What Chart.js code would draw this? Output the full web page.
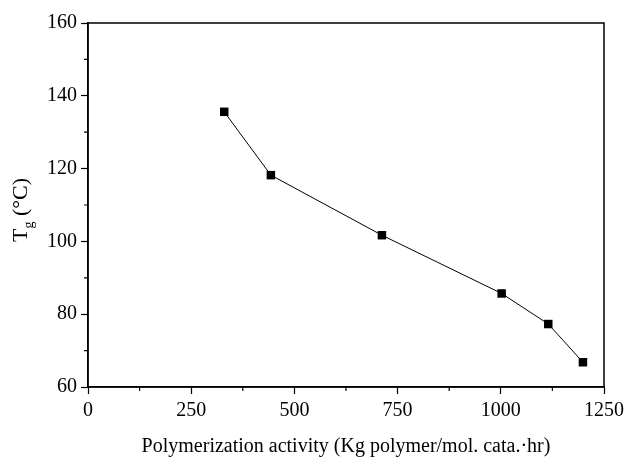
<!DOCTYPE html>
<html>
<head>
<meta charset="utf-8">
<script src="https://cdn.jsdelivr.net/npm/chart.js@4"></script>
<style>
  body { margin: 0; background: #fff; }
  #wrap { width: 630px; height: 459px; }
</style>
</head>
<body>
<div id="wrap"><canvas id="tgChart" width="630" height="459"></canvas></div>
<script>
// values
const activity = [330, 443, 712, 1002, 1115, 1199];
const tg = [135.6, 118.2, 101.7, 85.7, 77.3, 66.8];
const xTicks = [0, 250, 500, 750, 1000, 1250];
const yTicks = [60, 80, 100, 120, 140, 160];

const SERIF = "'Liberation Serif', 'DejaVu Serif', serif";

// frame on top/right, minor ticks and axis titles
const framePlugin = {
    id: 'frame',
    afterDraw(chart){
        const ctx = chart.ctx;
        const a = chart.chartArea;
        const xs = chart.scales.x, ys = chart.scales.y;
        ctx.save();
        ctx.strokeStyle = '#000';
        ctx.lineWidth = 1.5;
        ctx.strokeRect(a.left, a.top, a.right - a.left, a.bottom - a.top);

        // minor ticks halfway between the major ones
        ctx.lineWidth = 1.2;
        ctx.beginPath();
        for(let i = 0; i < xTicks.length - 1; i++){
            const px = xs.getPixelForValue((xTicks[i] + xTicks[i+1]) / 2);
            ctx.moveTo(px, a.bottom);
            ctx.lineTo(px, a.bottom + 4);
        }
        for(let i = 0; i < yTicks.length - 1; i++){
            const py = ys.getPixelForValue((yTicks[i] + yTicks[i+1]) / 2);
            ctx.moveTo(a.left, py);
            ctx.lineTo(a.left - 4, py);
        }
        ctx.stroke();

        ctx.fillStyle = '#000';
        // x title
        ctx.font = "20px " + SERIF;
        ctx.textAlign = 'center';
        ctx.textBaseline = 'alphabetic';
        ctx.fillText('Polymerization activity (Kg polymer/mol. cata.\u00b7hr)', 346, 452);

        // y title: T with subscript g, rotated
        ctx.translate(27, 210);
        ctx.rotate(-Math.PI / 2);
        ctx.textAlign = 'left';
        ctx.font = "22px " + SERIF;
        const tW = ctx.measureText('T').width;
        ctx.font = "14px " + SERIF;
        const gW = ctx.measureText('g').width;
        ctx.font = "22px " + SERIF;
        const restW = ctx.measureText(' (\u00b0C)').width;
        let x0 = -(tW + gW + restW) / 2;
        ctx.fillText('T', x0, 0);
        ctx.font = "14px " + SERIF;
        ctx.fillText('g', x0 + tW, 6);
        ctx.font = "22px " + SERIF;
        ctx.fillText(' (\u00b0C)', x0 + tW + gW, 0);
        ctx.restore();
    }
};

new Chart(document.getElementById('tgChart'), {
    type: 'scatter',
    data: {
        datasets: [{
            data: activity.map((v, i) => ({ x: v, y: tg[i] })),
            showLine: true,
            borderColor: '#000',
            borderWidth: 1,
            backgroundColor: '#000',
            pointStyle: 'rect',
            pointRadius: 6,
            pointHoverRadius: 6,
            pointBorderWidth: 0
        }]
    },
    options: {
        responsive: false,
        animation: false,
        devicePixelRatio: 1,
        layout: { padding: { top: 23, right: 26, left: 0, bottom: 0 } },
        plugins: { legend: { display: false }, tooltip: { enabled: false } },
        scales: {
            x: {
                type: 'linear',
                min: 0, max: 1250,
                afterBuildTicks: s => { s.ticks = xTicks.map(v => ({ value: v })); },
                afterFit: s => { s.height = 72; },
                grid: { drawOnChartArea: false, tickLength: 7, tickColor: '#000', tickWidth: 1.2 },
                border: { color: '#000', width: 1.5 },
                ticks: { color: '#000', font: { family: SERIF, size: 20 }, padding: 5, maxRotation: 0,
                         callback: v => String(v) }
            },
            y: {
                type: 'linear',
                min: 60, max: 160,
                afterBuildTicks: s => { s.ticks = yTicks.map(v => ({ value: v })); },
                afterFit: s => { s.width = 88; },
                grid: { drawOnChartArea: false, tickLength: 7, tickColor: '#000', tickWidth: 1.2 },
                border: { color: '#000', width: 1.5 },
                ticks: { color: '#000', font: { family: SERIF, size: 20 }, padding: 4,
                         callback: v => String(v) }
            }
        }
    },
    plugins: [framePlugin]
});
</script>
</body>
</html>
